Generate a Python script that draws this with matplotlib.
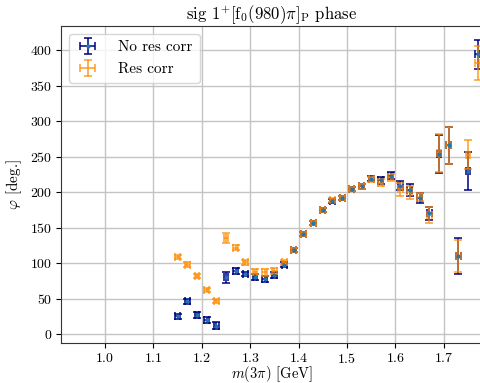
import numpy as np
import matplotlib
matplotlib.use("Agg")
import matplotlib.pyplot as plt

plt.rcParams['font.family'] = 'serif'
plt.rcParams['font.serif'] = ['cmr10']
plt.rcParams['mathtext.fontset'] = 'cm'
plt.rcParams['axes.formatter.use_mathtext'] = True

mass = [1.15, 1.17, 1.19, 1.21, 1.23, 1.25, 1.27, 1.29, 1.31, 1.33, 1.35,
        1.37, 1.39, 1.41, 1.43, 1.45, 1.47, 1.49, 1.51, 1.53, 1.55, 1.57,
        1.59, 1.61, 1.63, 1.65, 1.67, 1.69, 1.71, 1.73, 1.75, 1.77]

phase_nocorr = [25, 46, 27, 20, 12, 80, 89, 85, 80, 78, 83,
                98, 119, 141, 157, 175, 188, 192, 204, 208, 219, 217,
                223, 209, 203, 192, 170, 254, 266, 110, 230, 394]
err_nocorr = [4, 4, 4, 4, 5, 8, 4, 3, 4, 4, 4,
              4, 3, 3, 3, 3, 3, 3, 3, 3, 4, 5,
              5, 6, 9, 7, 9, 27, 26, 26, 27, 20]

phase_corr = [109, 98, 82, 62, 47, 135, 122, 101, 88, 87, 89,
              101, 119, 141, 157, 175, 189, 192, 204, 208, 218, 213,
              221, 204, 200, 193, 168, 255, 266, 110, 253, 382]
err_corr = [3, 3, 3, 3, 3, 7, 4, 4, 4, 5, 4,
            4, 3, 3, 3, 3, 3, 3, 3, 3, 4, 5,
            5, 9, 9, 6, 11, 27, 26, 22, 21, 24]

bin_halfwidth = 0.005

fig = plt.figure(figsize=(4.81, 3.83), dpi=100)
ax = fig.add_axes([61/481, 40/383, 421/481, 317/383])

ax.errorbar(mass, phase_nocorr, yerr=err_nocorr, xerr=bin_halfwidth,
            fmt='.', color='C0', ecolor='navy', markersize=4,
            elinewidth=1.1, capsize=3, capthick=1.1, label='No res corr')
ax.errorbar(mass, phase_corr, yerr=err_corr, xerr=bin_halfwidth,
            fmt='none', ecolor='darkorange', alpha=0.85,
            elinewidth=1.1, capsize=3, capthick=1.1, label='Res corr')

ax.set_xlim(0.909, 1.779)
ax.set_ylim(-12.5, 434)
ax.set_xticks([1.0, 1.1, 1.2, 1.3, 1.4, 1.5, 1.6, 1.7])
ax.set_yticks([0, 50, 100, 150, 200, 250, 300, 350, 400])
ax.grid(True, color='#c4c4c4', linewidth=1.0)
ax.set_axisbelow(True)
for s in ax.spines.values():
    s.set_color('#333333')

ax.set_title(r'sig $1^{+}[\mathrm{f}_0(980)\pi]_\mathrm{P}$ phase', fontsize=12, pad=5)
ax.set_xlabel(r'$m(3\pi)$ [GeV]', fontsize=10.5, labelpad=-1.5)
ax.set_ylabel(r'$\varphi$ [deg.]', fontsize=11)
ax.tick_params(labelsize=10, pad=3)
ax.legend(loc='upper left', fontsize=11, labelspacing=0.55, handletextpad=1.2,
          handlelength=1.6, borderpad=0.45, borderaxespad=0.5)

fig.savefig('out.png', dpi=100)
